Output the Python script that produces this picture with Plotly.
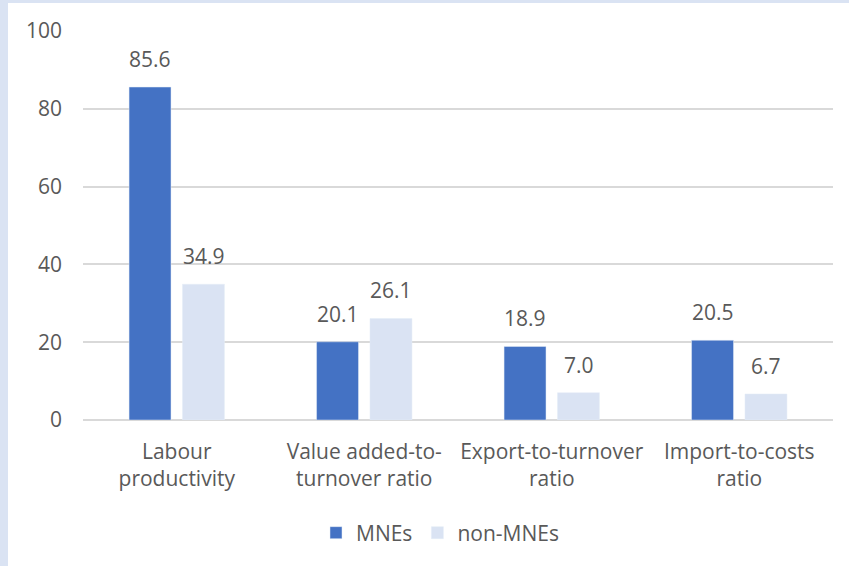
import plotly.graph_objects as go

categories = ["Labour<br>productivity", "Value added-to-<br>turnover ratio",
              "Export-to-turnover<br>ratio", "Import-to-costs<br>ratio"]
mnes = [85.6, 20.1, 18.9, 20.5]
non_mnes = [34.9, 26.1, 7.0, 6.7]

W, H = 849, 566
ml, mr, mt, mb = 83, 16, 31, 146
pw, ph = W - ml - mr, H - mt - mb
bar_offset_px = 26.75

def px_x(p):
    return (p - ml) / pw

def px_y(p):
    return (H - mb - p) / ph

font = dict(family="Open Sans, Noto Sans, sans-serif", size=21, color="#595959")

fig = go.Figure()
fig.add_trace(go.Bar(name="MNEs", x=categories, y=mnes, marker_color="#4472c4"))
fig.add_trace(go.Bar(name="non-MNEs", x=categories, y=non_mnes, marker_color="#dae3f3"))

annotations = []
for cat, a, b in zip(categories, mnes, non_mnes):
    for val, sh in ((a, -bar_offset_px), (b, bar_offset_px)):
        annotations.append(dict(x=cat, y=val, text=f"{val:.1f}", showarrow=False,
                                xshift=sh, yshift=12, yanchor="bottom", font=font))

fig.update_layout(
    width=W, height=H,
    margin=dict(l=ml, r=mr, t=mt, b=mb),
    paper_bgcolor="white", plot_bgcolor="white",
    barmode="group", bargap=0.43, bargroupgap=0.215,
    font=font,
    showlegend=True,
    legend=dict(orientation="h", x=px_x(440), xanchor="center", y=px_y(533), yanchor="middle",
                font=font, itemwidth=30, traceorder="normal"),
    annotations=annotations,
    shapes=[
        dict(type="rect", xref="paper", yref="paper", x0=px_x(0), x1=px_x(8),
             y0=px_y(H), y1=px_y(0), fillcolor="#dae3f3", line_width=0, layer="below"),
        dict(type="rect", xref="paper", yref="paper", x0=px_x(0), x1=px_x(W),
             y0=px_y(3), y1=px_y(0), fillcolor="#dae3f3", line_width=0, layer="below"),
    ],
)
fig.update_yaxes(range=[0, 100], dtick=20, showgrid=True, gridcolor="#d9d9d9", gridwidth=1.5,
                 zeroline=True, zerolinecolor="#d9d9d9", zerolinewidth=1.5,
                 showline=False, ticks="", ticklabelstandoff=20, tickfont=font)
fig.update_xaxes(showline=False, ticks="", tickfont=font, ticklabelstandoff=17, tickangle=0)

fig.write_html("out.html", config={"displayModeBar": False},
               post_script="document.body.style.margin='0';document.body.style.overflow='hidden';")
